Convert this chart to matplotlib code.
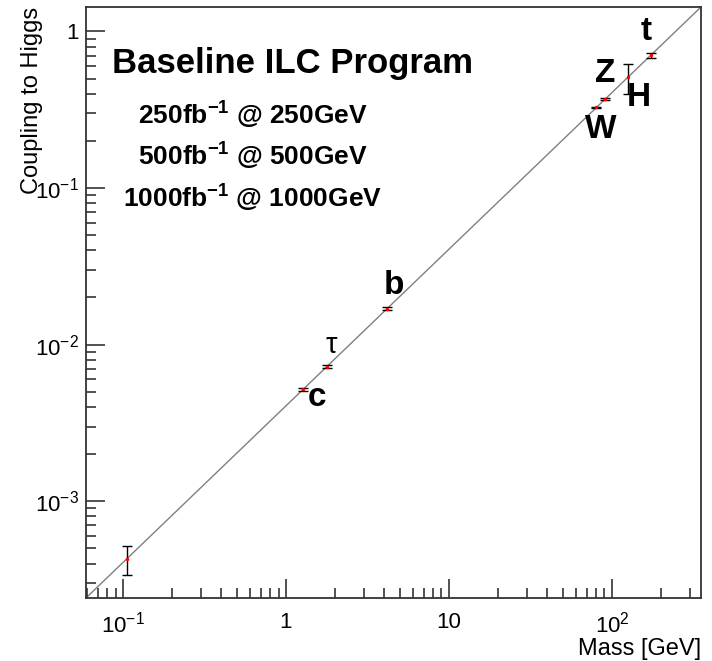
import numpy as np
import matplotlib.pyplot as plt
from matplotlib.ticker import NullFormatter

plt.rcParams['font.family'] = ['Liberation Sans', 'DejaVu Sans']
plt.rcParams['mathtext.fontset'] = 'custom'
plt.rcParams['mathtext.rm'] = 'Liberation Sans'
plt.rcParams['mathtext.it'] = 'Liberation Sans:italic'
plt.rcParams['mathtext.bf'] = 'Liberation Sans:bold'

# частицы: масса [GeV], константа связи с Хиггсом, ошибка
names = ['mu', 'c', 'tau', 'b', 'W', 'Z', 'H', 't']
mass = [0.1057, 1.275, 1.777, 4.18, 80.4, 91.19, 125.0, 173.0]
coupling = [4.30e-4, 5.18e-3, 7.22e-3, 0.0170, 0.327, 0.371, 0.508, 0.703]
err = [0.9e-4, 1.2e-4, 1.4e-4, 3.0e-4, 0.004, 0.004, 0.11, 0.025]

vev = 246.0
x_min, x_max = 0.0593, 352.0

# подписи частиц (текст, позиция в пикселях картинки, жирный?)
labels = ['t', 'Z', 'H', 'W', 'b', 'τ', 'c']
label_px = [(646, 32), (605, 73), (639, 98), (601, 130), (394, 286), (331, 345), (317, 397)]
label_bold = [True, True, True, True, True, False, True]

lumi_lines = [r'250fb$^{\mathbf{-1}}$ @ 250GeV',
              r'500fb$^{\mathbf{-1}}$ @ 500GeV',
              r'1000fb$^{\mathbf{-1}}$ @ 1000GeV']

W, H = 712, 661
fig = plt.figure(figsize=(W / 100, H / 100), dpi=100)
ax = fig.add_axes([86 / W, 1 - 598 / H, (701 - 86) / W, (598 - 7) / H])
ax.set_xscale('log')
ax.set_yscale('log')

xx = np.array([x_min, x_max])
ax.plot(xx, xx / vev, color='#808080', lw=1.0, zorder=1)

ax.errorbar(mass, coupling, yerr=err, fmt='none', ecolor='black',
            elinewidth=1.0, capsize=3.5, capthick=1.0, zorder=2)
ax.plot(mass, coupling, 'o', color='red', ms=2.5, mew=0, zorder=3)

ax.set_xlim(x_min, x_max)
ax.set_ylim(x_min / vev, x_max / vev)

ax.set_xticks([0.1, 1, 10, 100], [r'$10^{-1}$', '1', '10', r'$10^{2}$'])
ax.set_yticks([1e-3, 1e-2, 1e-1, 1], [r'$10^{-3}$', r'$10^{-2}$', r'$10^{-1}$', '1'])
ax.xaxis.set_minor_formatter(NullFormatter())
ax.yaxis.set_minor_formatter(NullFormatter())
ax.tick_params(which='both', direction='in', top=False, right=False,
               labelsize=16, color='#333333', width=1.2)
ax.tick_params(which='major', length=14)
ax.tick_params(which='minor', length=7)
ax.tick_params(axis='x', pad=10)
ax.tick_params(axis='y', pad=5)
for s in ax.spines.values():
    s.set_linewidth(1.3)
    s.set_color('#333333')

ax.set_xlabel('Mass [GeV]', fontsize=17, ha='right')
ax.xaxis.set_label_coords(1.0, -0.068)
ax.set_ylabel('Coupling to Higgs', fontsize=17, ha='right')
ax.yaxis.set_label_coords(-0.070, 1.0)

for txt, (px, py), bold in zip(labels, label_px, label_bold):
    fig.text(px / W, 1 - py / H, txt, fontsize=24 if bold else 21,
             fontweight='bold' if bold else 'normal', ha='center', va='center')

fig.text(112 / W, 1 - 63 / H, 'Baseline ILC Program', fontsize=25,
         fontweight='bold', ha='left', va='center')
for i, line in enumerate(lumi_lines):
    fig.text(253 / W, 1 - (115 + 41.5 * i) / H, line, fontsize=19,
             fontweight='bold', ha='center', va='center')

fig.savefig('out.png', dpi=100)
